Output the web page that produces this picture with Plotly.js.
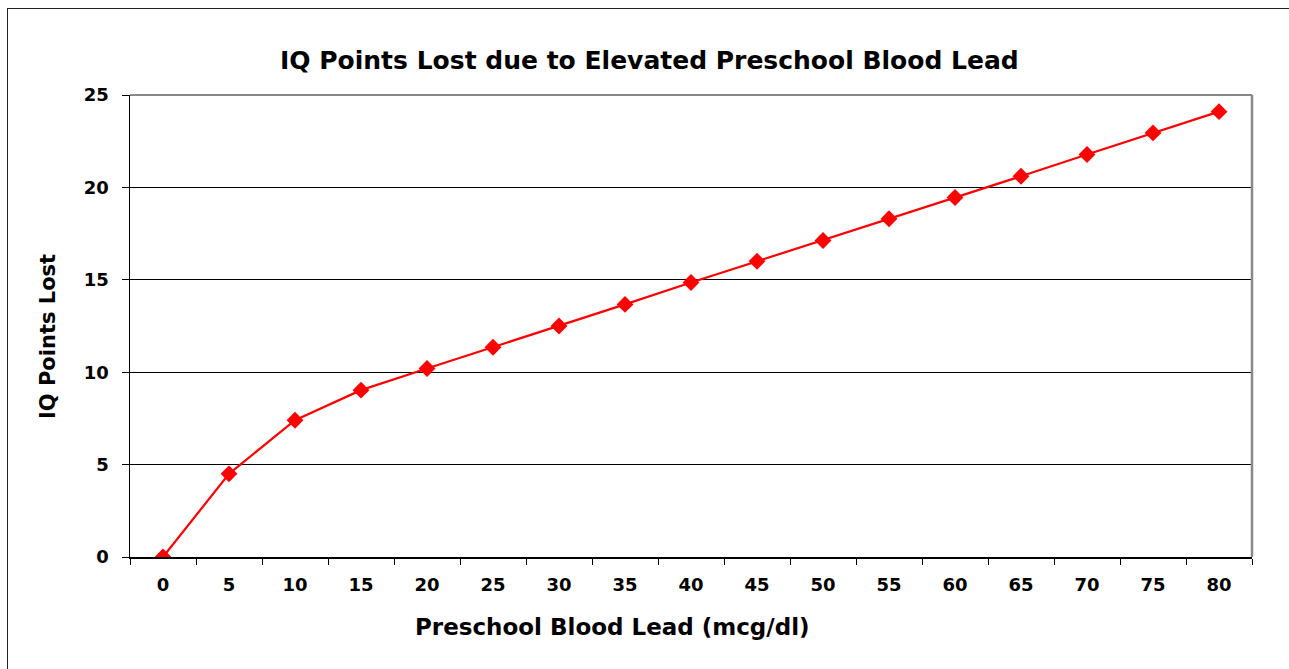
<!DOCTYPE html>
<html>
<head>
<meta charset="utf-8">
<script src="https://cdn.plot.ly/plotly-3.0.1.min.js"></script>
<style>
  html, body { margin: 0; padding: 0; background: #fff; }
  #chart { width: 1289px; height: 669px; }
  #frame { position: absolute; left: 7px; top: 8px; width: 1400px; height: 800px;
           border-left: 1.5px solid #222; border-top: 1.5px solid #222; pointer-events: none; }
</style>
</head>
<body>
<div id="chart"></div>
<div id="frame"></div>
<script>
const leadLevels = ["0","5","10","15","20","25","30","35","40","45","50","55","60","65","70","75","80"];
const iqPointsLost = [0, 4.5, 7.4, 9.03, 10.2, 11.35, 12.5, 13.67, 14.85, 16.0, 17.13, 18.3, 19.45, 20.6, 21.78, 22.95, 24.1];
const yTicks = [0, 5, 10, 15, 20, 25];

const chartTitle = "IQ Points Lost due to Elevated Preschool Blood Lead";
const xTitle = "Preschool Blood Lead (mcg/dl)";
const yTitle = "IQ Points Lost";

const fontFamily = "DejaVu Sans, Arial, sans-serif";

const trace = {
  x: leadLevels,
  y: iqPointsLost,
  type: "scatter",
  mode: "lines+markers",
  line: { color: "#ff0000", width: 2.2 },
  marker: { symbol: "diamond", size: 13, color: "#ff0000" },
  hoverinfo: "x+y"
};

const layout = {
  width: 1289,
  height: 669,
  margin: { l: 130, r: 37, t: 95, b: 112 },
  paper_bgcolor: "#ffffff",
  plot_bgcolor: "#ffffff",
  showlegend: false,
  font: { family: fontFamily, color: "#000" },
  xaxis: {
    type: "category",
    range: [-0.5, leadLevels.length - 0.5],
    tickson: "boundaries",
    ticks: "outside",
    ticklen: 6,
    tickcolor: "#000",
    tickwidth: 1,
    showline: true,
    linecolor: "#000",
    linewidth: 1.5,
    showgrid: false,
    zeroline: false,
    tickfont: { size: 18, family: fontFamily, weight: "bold", color: "#000" },
    ticklabelstandoff: 11,
    fixedrange: true
  },
  yaxis: {
    range: [0, 25],
    tickvals: yTicks,
    ticks: "outside",
    ticklen: 7,
    tickcolor: "#000",
    tickwidth: 1,
    showline: true,
    linecolor: "#000",
    linewidth: 1.5,
    showgrid: true,
    gridcolor: "#000",
    gridwidth: 1,
    zeroline: false,
    tickfont: { size: 18, family: fontFamily, weight: "bold", color: "#000" },
    ticklabelstandoff: 9,
    fixedrange: true
  },
  shapes: [
    { type: "line", xref: "paper", yref: "paper", x0: 0, x1: 1, y0: 1, y1: 1,
      line: { color: "#888", width: 2 } },
    { type: "line", xref: "paper", yref: "paper", x0: 1, x1: 1, y0: 0, y1: 1,
      line: { color: "#888", width: 2.5 } }
  ],
  annotations: [
    { text: chartTitle, xref: "paper", yref: "paper",
      x: (649 - 130) / 1122, y: (557 - 61) / 462, xanchor: "center", yanchor: "middle",
      showarrow: false, font: { size: 25, family: fontFamily, weight: "bold", color: "#000" } },
    { text: xTitle, xref: "paper", yref: "paper",
      x: (612 - 130) / 1122, y: (557 - 627) / 462, xanchor: "center", yanchor: "middle",
      showarrow: false, font: { size: 23, family: fontFamily, weight: "bold", color: "#000" } },
    { text: yTitle, xref: "paper", yref: "paper",
      x: (48 - 130) / 1122, y: (557 - 337) / 462, xanchor: "center", yanchor: "middle",
      textangle: -90,
      showarrow: false, font: { size: 21, family: fontFamily, weight: "bold", color: "#000" } }
  ]
};

Plotly.newPlot("chart", [trace], layout, { displayModeBar: false, staticPlot: true });
</script>
</body>
</html>
